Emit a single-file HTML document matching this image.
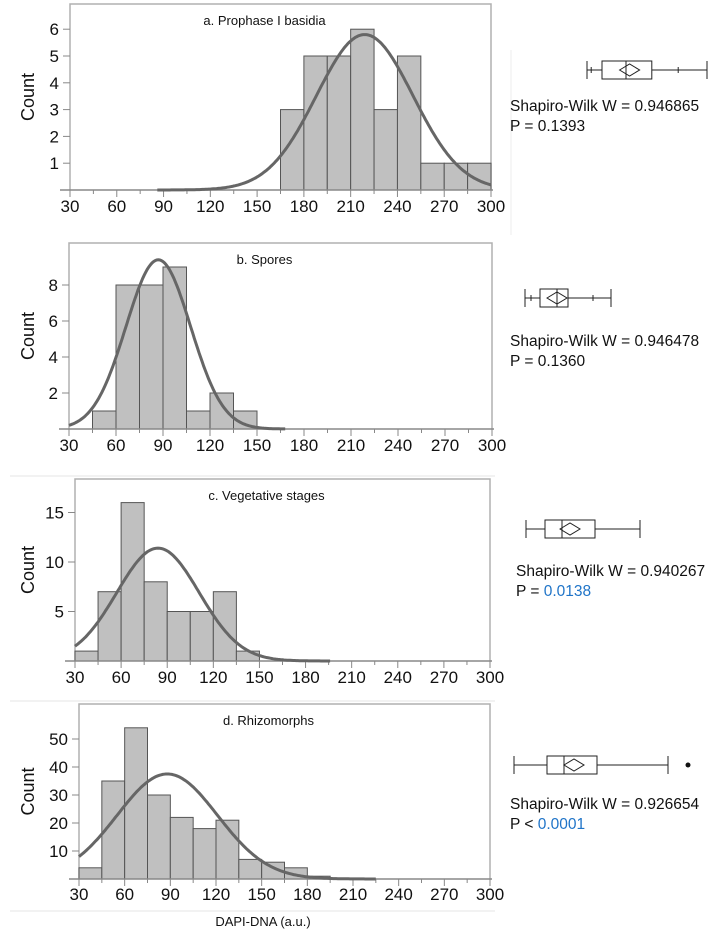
<!DOCTYPE html>
<html><head><meta charset="utf-8">
<style>
html,body{margin:0;padding:0;background:#fff;}
svg{display:block;font-family:"Liberation Sans",Arial,sans-serif;}
</style></head>
<body>
<svg id="fig" width="708" height="930" viewBox="0 0 708 930"></svg>
<script>
// Shared x-axis ticks
const xTicks = [30,60,90,120,150,180,210,240,270,300];
// Panel titles
const titles = ["a. Prophase I basidia","b. Spores","c. Vegetative stages","d. Rhizomorphs"];
// Bin starts (width 15)
const binStartsA = [165,180,195,210,225,240,255,270,285];
const countsA = [3,5,5,6,3,5,1,1,1];
const binStartsB = [45,60,75,90,105,120,135];
const countsB = [1,8,8,9,1,2,1];
const binStartsC = [30,45,60,75,90,105,120,135];
const countsC = [1,7,16,8,5,5,7,1];
const binStartsD = [30,45,60,75,90,105,120,135,150,165,180];
const countsD = [4,35,54,30,22,18,21,7,6,4,1];
// Y tick labels
const yTicksA = [1,2,3,4,5,6];
const yTicksB = [2,4,6,8];
const yTicksC = [5,10,15];
const yTicksD = [10,20,30,40,50];
// Normal fit params
const fitMean = [219,87,84,88];
const fitSd = [31,20.6,26.8,33];
const fitPeak = [5.8,9.4,11.4,37.5];
const fitStart = [86,30,30,30];
const fitEnd = [300,168,196,225];
// Box plots (box-plot scale units)
const boxLo = [100,40,30,30];
const boxQ1 = [125,55,49,63];
const boxMed = [165,72,66,80];
const boxQ3 = [208,83,99,113];
const boxHi = [300,126,144,184];
const boxMean = [171,72,74,90];
const boxOut = [null,null,null,204];
const boxExtraTicksA = [107,252];
const boxExtraTicksB = [46,108];
// Stats text
const swW = ["0.946865","0.946478","0.940267","0.926654"];
const swP = ["P = |0.1393","P = |0.1360","P = |0.0138","P < |0.0001"];
const pBlue = [false,false,true,true];

const NS="http://www.w3.org/2000/svg";
const svg=document.getElementById('fig');
function mk(tag,attrs,parent){const e=document.createElementNS(NS,tag);for(const k in attrs)e.setAttribute(k,attrs[k]);(parent||svg).appendChild(e);return e;}

const L=[
 {x0:70,x1:491,top:4,base:190,yPer:26.8,lab:212,yl:28,bx:[587,707],by:70,tx:510,ty:111},
 {x0:69,x1:492,top:243,base:429,yPer:18,lab:451,yl:28,bx:[525,611],by:298,tx:510,ty:346},
 {x0:75,x1:490,top:479,base:661,yPer:9.9,lab:683,yl:28,bx:[526,640],by:529,tx:516,ty:576},
 {x0:79,x1:490,top:704,base:879,yPer:2.8,lab:900,yl:28,bx:[514,668],by:765,tx:510,ty:809}
];
const bins=[binStartsA,binStartsB,binStartsC,binStartsD];
const counts=[countsA,countsB,countsC,countsD];
const yts=[yTicksA,yTicksB,yTicksC,yTicksD];
const extraTicks=[boxExtraTicksA,boxExtraTicksB,[],[]];

let s=mk('line',{x1:10,y1:476,x2:495,y2:476,stroke:'#e6e6e6','stroke-width':1});

s=mk('line',{x1:10,y1:701,x2:495,y2:701,stroke:'#e6e6e6','stroke-width':1});

s=mk('line',{x1:10,y1:911,x2:495,y2:911,stroke:'#e6e6e6','stroke-width':1});

s=mk('line',{x1:511,y1:50,x2:511,y2:235,stroke:'#eeeeee','stroke-width':1});


for(let p=0;p<4;p++){
  const l=L[p];
  const g=mk('g',{});
  
  
  const xs=v=>l.x0+(v-30)*(l.x1-l.x0)/270;
  const ys=v=>l.base-v*l.yPer;
  const fr=mk('path',{d:`M${l.x0},${l.base}V${l.top}H${l.x1}V${l.base}`,fill:'none',stroke:'#b0b0b0','stroke-width':1.5},g);
  
  for(let i=0;i<bins[p].length;i++){
    const x=xs(bins[p][i]),w=xs(bins[p][i]+15)-x,y=ys(counts[p][i]);
    const r=mk('rect',{x:x,y:y,width:w,height:l.base-y,fill:'#c0c0c0',stroke:'#555','stroke-width':1},g);
    
    
  }
  const ax=mk('line',{x1:l.x0-10,y1:l.base,x2:l.x1+2,y2:l.base,stroke:'#888','stroke-width':1.5},g);
  
  for(let t=30;t<=300;t+=15){
    mk('line',{x1:xs(t),y1:l.base,x2:xs(t),y2:l.base+(t%30===0?7:4),stroke:'#888','stroke-width':1},g);
  }
  xTicks.forEach(t=>{
    const tx=mk('text',{x:xs(t),y:l.lab,'font-size':17,'text-anchor':'middle',fill:'#111'},g);
    tx.textContent=t;
    
  });
  yts[p].forEach(t=>{
    mk('line',{x1:l.x0-7,y1:ys(t),x2:l.x0,y2:ys(t),stroke:'#888','stroke-width':1},g);
    const tx=mk('text',{x:l.x0-11,y:ys(t)+6,'font-size':17,'text-anchor':'end',fill:'#111'},g);
    tx.textContent=t;
    
  });
  const yl=mk('text',{x:l.yl+6,y:(l.top+l.base)/2,'font-size':18,'text-anchor':'middle',fill:'#111',transform:`rotate(-90 ${l.yl+6} ${(l.top+l.base)/2})`},g);
  yl.textContent='Count';
  
  const ti=mk('text',{x:(l.x0+l.x1)/2-16,y:l.top+21,'font-size':13,'text-anchor':'middle',fill:'#111'},g);
  ti.textContent=titles[p];
  
  let d='';
  for(let v=fitStart[p];v<=fitEnd[p];v+=1){
    const y=fitPeak[p]*Math.exp(-0.5*Math.pow((v-fitMean[p])/fitSd[p],2));
    d+=(d?'L':'M')+xs(v).toFixed(1)+','+ys(y).toFixed(1);
  }
  const c=mk('path',{d:d,fill:'none',stroke:'#666','stroke-width':3},g);
  
  const bg=mk('g',{},g);
  
  const bx=v=>l.bx[0]+(v-boxLo[p])*(l.bx[1]-l.bx[0])/(boxHi[p]-boxLo[p]);
  const by=l.by,h=9;
  mk('line',{x1:bx(boxLo[p]),y1:by,x2:bx(boxQ1[p]),y2:by,stroke:'#222'},bg);
  mk('line',{x1:bx(boxQ3[p]),y1:by,x2:bx(boxHi[p]),y2:by,stroke:'#222'},bg);
  mk('line',{x1:bx(boxLo[p]),y1:by-h,x2:bx(boxLo[p]),y2:by+h,stroke:'#222'},bg);
  mk('line',{x1:bx(boxHi[p]),y1:by-h,x2:bx(boxHi[p]),y2:by+h,stroke:'#222'},bg);
  extraTicks[p].forEach(t=>mk('line',{x1:bx(t),y1:by-3,x2:bx(t),y2:by+3,stroke:'#222'},bg));
  mk('rect',{x:bx(boxQ1[p]),y:by-h,width:bx(boxQ3[p])-bx(boxQ1[p]),height:2*h,fill:'none',stroke:'#222'},bg);
  mk('line',{x1:bx(boxMed[p]),y1:by-h,x2:bx(boxMed[p]),y2:by+h,stroke:'#222'},bg);
  const m=bx(boxMean[p]);
  mk('path',{d:`M${m-10},${by}L${m},${by-6}L${m+10},${by}L${m},${by+6}Z`,fill:'none',stroke:'#222'},bg);
  if(boxOut[p]!==null) mk('circle',{cx:bx(boxOut[p]),cy:by,r:2.5,fill:'#111'},bg);
  const t1=mk('text',{x:l.tx,y:l.ty,'font-size':15.5,fill:'#111'},g);
  t1.textContent='Shapiro-Wilk W = '+swW[p];
  
  const parts=swP[p].split('|');
  const t2=mk('text',{x:l.tx,y:l.ty+20,'font-size':15.5,fill:'#111'},g);
  
  const s1=mk('tspan',{},t2);s1.textContent=parts[0];
  const s2=mk('tspan',{fill:pBlue[p]?'#1f74c8':'#111'},t2);s2.textContent=parts[1];
}
const xl=mk('text',{x:263,y:926,'font-size':13,'text-anchor':'middle',fill:'#111'});
xl.textContent='DAPI-DNA (a.u.)';

</script>
</body></html>
